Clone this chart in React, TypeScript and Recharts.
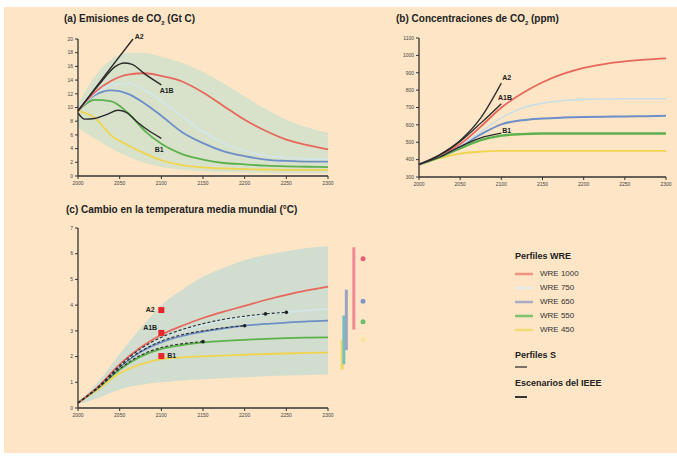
import React from 'react';
import { ComposedChart, Line, Area, XAxis, YAxis, ReferenceLine, ReferenceDot, Scatter } from 'recharts';

// ---------- shared ----------
const xTicks = [2000, 2050, 2100, 2150, 2200, 2250, 2300];
const emisTicks = [0, 2, 4, 6, 8, 10, 12, 14, 16, 18, 20];
const concTicks = [300, 400, 500, 600, 700, 800, 900, 1000, 1100];
const tempTicks = [0, 1, 2, 3, 4, 5, 6, 7];

// ---------- (a) emissions ----------
const yearsA = [2000, 2020, 2040, 2060, 2080, 2100, 2125, 2150, 2175, 2200, 2225, 2250, 2275, 2300];
const emisWRE1000 = [9.5, 12.2, 13.9, 14.8, 15.0, 14.6, 13.8, 12.2, 10.2, 8.2, 6.6, 5.3, 4.5, 3.9];
const emisWRE750 = [9.5, 12.0, 13.3, 13.5, 12.6, 11.0, 8.7, 6.5, 4.8, 3.7, 3.0, 2.7, 2.5, 2.4];
const emisWRE650 = [9.5, 11.8, 12.5, 12.0, 10.6, 8.8, 6.4, 4.8, 3.6, 2.9, 2.4, 2.2, 2.1, 2.1];
const emisWRE550 = [9.5, 11.1, 10.9, 9.2, 6.6, 4.7, 3.2, 2.4, 1.9, 1.7, 1.5, 1.4, 1.35, 1.3];
const emisWRE450 = [9.5, 8.5, 5.9, 4.5, 3.3, 2.3, 1.6, 1.25, 1.1, 1.0, 0.95, 0.9, 0.9, 0.9];
const emisBandLow = [7.0, 5.5, 4.0, 2.8, 1.9, 1.3, 0.9, 0.7, 0.6, 0.5, 0.45, 0.4, 0.4, 0.4];
const emisBandHigh = [10.5, 14.5, 17.0, 18.0, 18.0, 17.4, 16.5, 15.2, 13.5, 11.6, 9.8, 8.2, 7.1, 6.3];

const yearsA2 = [2000, 2033, 2066];
const emisA2 = [9.5, 14.8, 20.0];
const yearsA1B = [2000, 2025, 2045, 2055, 2065, 2080, 2100];
const emisA1B = [9.5, 13.3, 16.0, 16.5, 16.3, 14.9, 13.3];
const yearsB1 = [2000, 2008, 2020, 2035, 2048, 2058, 2070, 2085, 2100];
const emisB1 = [9.2, 8.3, 8.4, 9.0, 9.6, 9.3, 8.0, 6.6, 5.5];
const emisLabels = [
  { text: 'A2', x: 2068, y: 20.3 },
  { text: 'A1B', x: 2098, y: 12.5 },
  { text: 'B1', x: 2092, y: 3.8 },
];

// ---------- (b) concentrations ----------
const yearsB = [2000, 2025, 2050, 2075, 2100, 2125, 2150, 2175, 2200, 2225, 2250, 2275, 2300];
const concWRE1000 = [372, 425, 490, 590, 700, 780, 845, 893, 928, 950, 965, 976, 983];
const concWRE750 = [372, 422, 482, 560, 640, 695, 725, 740, 747, 749, 750, 750, 750];
const concWRE650 = [372, 420, 475, 545, 603, 627, 637, 642, 645, 647, 648, 650, 652];
const concWRE550 = [372, 415, 465, 512, 538, 547, 550, 550, 550, 550, 550, 550, 550];
const concWRE450 = [372, 408, 435, 446, 450, 450, 450, 450, 450, 450, 450, 450, 450];
const yearsSRES = [2000, 2025, 2050, 2075, 2100];
const concA2 = [372, 428, 510, 640, 840];
const concA1B = [372, 425, 505, 610, 722];
const concB1 = [372, 415, 475, 525, 552];
const concLabels = [
  { text: 'A2', x: 2101, y: 870 },
  { text: 'A1B', x: 2096, y: 755 },
  { text: 'B1', x: 2101, y: 565 },
];

// ---------- (c) temperature ----------
const yearsC = [2000, 2025, 2050, 2075, 2100, 2125, 2150, 2175, 2200, 2225, 2250, 2275, 2300];
const tempWRE1000 = [0.2, 0.85, 1.7, 2.35, 2.85, 3.2, 3.5, 3.75, 3.97, 4.2, 4.4, 4.57, 4.72];
const tempWRE750 = [0.2, 0.84, 1.65, 2.25, 2.7, 3.0, 3.22, 3.4, 3.53, 3.64, 3.72, 3.79, 3.85];
const tempWRE650 = [0.2, 0.83, 1.6, 2.18, 2.55, 2.8, 2.97, 3.1, 3.2, 3.27, 3.32, 3.37, 3.4];
const tempWRE550 = [0.2, 0.8, 1.5, 2.0, 2.3, 2.45, 2.55, 2.61, 2.65, 2.69, 2.72, 2.74, 2.75];
const tempWRE450 = [0.2, 0.75, 1.35, 1.7, 1.9, 1.97, 2.01, 2.04, 2.07, 2.1, 2.12, 2.14, 2.15];
const tempBandLow = [0.15, 0.4, 0.72, 0.9, 1.0, 1.07, 1.12, 1.16, 1.2, 1.23, 1.26, 1.28, 1.3];
const tempBandHigh = [0.2, 1.05, 2.1, 3.1, 4.0, 4.6, 5.1, 5.45, 5.75, 5.95, 6.1, 6.22, 6.3];

const yearsS750 = [2000, 2025, 2050, 2075, 2100, 2125, 2150, 2175, 2200, 2225, 2250];
const tempS750 = [0.2, 0.85, 1.65, 2.3, 2.75, 3.05, 3.28, 3.45, 3.57, 3.66, 3.72];
const yearsS650 = [2000, 2025, 2050, 2075, 2100, 2125, 2150, 2175, 2200];
const tempS650 = [0.2, 0.82, 1.6, 2.2, 2.6, 2.85, 3.0, 3.12, 3.2];
const yearsS550 = [2000, 2025, 2050, 2075, 2100, 2125, 2150];
const tempS550 = [0.2, 0.8, 1.52, 2.05, 2.35, 2.5, 2.58];
const sEndYears = [2225, 2250, 2200, 2150];
const sEndTemps = [3.66, 3.72, 3.2, 2.58];

const tempSRESYears = [2100, 2100, 2100];
const tempSRES = [3.81, 2.92, 2.02];
const tempLabels = [
  { text: 'A2', x: 2092, y: 3.85, anchor: 'end' },
  { text: 'A1B', x: 2095, y: 3.15, anchor: 'end' },
  { text: 'B1', x: 2107, y: 2.06, anchor: 'start' },
];
const rangeYears = [2317, 2319, 2322, 2331];
const rangeLow = [1.5, 1.7, 2.25, 3.05];
const rangeHigh = [2.65, 3.6, 4.6, 6.25];
const rangeDotYear = 2342;
const rangeDotTemps = [5.8, 4.15, 3.35, 2.65];

// ---------- legend ----------
const legendNames = ['WRE 1000', 'WRE 750', 'WRE 650', 'WRE 550', 'WRE 450'];

// ---------- styles ----------
const C_RED = '#e8675c';
const C_LBLUE = '#d3e6ec';
const C_BLUE = '#6d8ec8';
const C_GREEN = '#5db14c';
const C_YEL = '#f1d44e';
const C_BLACK = '#2a2a2a';
const legendColors = ['#f09282', '#e4ece8', '#aaa9c6', '#7dc36a', '#f5dc72'];
const rangeColors = ['#f3d65a', '#72c2bf', '#9aa3bf', '#ef8a92'];
const dotColors = ['#e2607a', '#7f97c8', '#6dbf6a', '#f6e6a0'];
const FONT = '"Liberation Sans", Arial, Helvetica, sans-serif';
const AX = '#333';

const pts = (xs: number[], ys: number[]) => xs.map((x, i) => ({ x, y: ys[i] }));
const band = (xs: number[], lo: number[], hi: number[]) => xs.map((x, i) => ({ x, r: [lo[i], hi[i]] }));

const tickStyle = { fontSize: 5, fill: '#444', fontFamily: FONT };

const xAxisEl = (
  <XAxis
    dataKey="x"
    type="number"
    domain={[2000, 2300]}
    ticks={xTicks}
    interval={0}
    height={14}
    tick={tickStyle}
    tickSize={3}
    axisLine={{ stroke: AX, strokeWidth: 1.3 }}
    tickLine={{ stroke: AX }}
  />
);

const TextShape = (text: string, anchor: string) => (p: any) => (
  <text x={p.cx} y={p.cy} dy={2.5} textAnchor={anchor} fontSize={7} fontWeight="bold" fontFamily={FONT} fill="#222">
    {text}
  </text>
);

const SquareShape = (p: any) => <rect x={p.cx - 3} y={p.cy - 3} width={6} height={6} fill="#e8262a" />;
const SmallDot = (p: any) => <circle cx={p.cx} cy={p.cy} r={1.8} fill="#222" />;

function ChartA() {
  return (
    <ComposedChart width={340} height={200} margin={{ top: 39, right: 12, bottom: 10, left: 0 }}>
      {xAxisEl}
      <YAxis
        type="number"
        domain={[0, 20]}
        ticks={emisTicks}
        interval={0}
        width={78}
        tick={tickStyle}
        tickSize={3}
        axisLine={{ stroke: AX, strokeWidth: 1.3 }}
        tickLine={{ stroke: AX }}
      />
      <Area data={band(yearsA, emisBandLow, emisBandHigh)} dataKey="r" type="monotone" stroke="none" fill="#d6e2ca" fillOpacity={0.95} isAnimationActive={false} />
      <Line data={pts(yearsA, emisWRE450)} dataKey="y" type="monotone" stroke={C_YEL} strokeWidth={1.8} dot={false} isAnimationActive={false} />
      <Line data={pts(yearsA, emisWRE550)} dataKey="y" type="monotone" stroke={C_GREEN} strokeWidth={1.8} dot={false} isAnimationActive={false} />
      <Line data={pts(yearsA, emisWRE650)} dataKey="y" type="monotone" stroke={C_BLUE} strokeWidth={1.8} dot={false} isAnimationActive={false} />
      <Line data={pts(yearsA, emisWRE750)} dataKey="y" type="monotone" stroke={C_LBLUE} strokeWidth={1.6} dot={false} isAnimationActive={false} />
      <Line data={pts(yearsA, emisWRE1000)} dataKey="y" type="monotone" stroke={C_RED} strokeWidth={1.8} dot={false} isAnimationActive={false} />
      <Line data={pts(yearsA2, emisA2)} dataKey="y" type="linear" stroke={C_BLACK} strokeWidth={1.4} dot={false} isAnimationActive={false} />
      <Line data={pts(yearsA1B, emisA1B)} dataKey="y" type="monotone" stroke={C_BLACK} strokeWidth={1.4} dot={false} isAnimationActive={false} />
      <Line data={pts(yearsB1, emisB1)} dataKey="y" type="monotone" stroke={C_BLACK} strokeWidth={1.4} dot={false} isAnimationActive={false} />
      {emisLabels.map((l) => (
        <ReferenceDot key={l.text} x={l.x} y={l.y} r={0} ifOverflow="visible" shape={TextShape(l.text, 'start')} />
      ))}
    </ComposedChart>
  );
}

function ChartB() {
  return (
    <ComposedChart width={297} height={200} margin={{ top: 38, right: 11, bottom: 9, left: 0 }}>
      {xAxisEl}
      <YAxis
        type="number"
        domain={[300, 1100]}
        ticks={concTicks}
        interval={0}
        width={39}
        tick={tickStyle}
        tickSize={3}
        axisLine={{ stroke: AX, strokeWidth: 1.3 }}
        tickLine={{ stroke: AX }}
      />
      <Line data={pts(yearsB, concWRE450)} dataKey="y" type="monotone" stroke={C_YEL} strokeWidth={1.8} dot={false} isAnimationActive={false} />
      <Line data={pts(yearsB, concWRE550)} dataKey="y" type="monotone" stroke={C_GREEN} strokeWidth={2.4} dot={false} isAnimationActive={false} />
      <Line data={pts(yearsB, concWRE650)} dataKey="y" type="monotone" stroke={C_BLUE} strokeWidth={2} dot={false} isAnimationActive={false} />
      <Line data={pts(yearsB, concWRE750)} dataKey="y" type="monotone" stroke="#c9dfe6" strokeWidth={1.6} dot={false} isAnimationActive={false} />
      <Line data={pts(yearsB, concWRE1000)} dataKey="y" type="monotone" stroke={C_RED} strokeWidth={1.8} dot={false} isAnimationActive={false} />
      <Line data={pts(yearsSRES, concA2)} dataKey="y" type="monotone" stroke={C_BLACK} strokeWidth={1.3} dot={false} isAnimationActive={false} />
      <Line data={pts(yearsSRES, concA1B)} dataKey="y" type="monotone" stroke={C_BLACK} strokeWidth={1.3} dot={false} isAnimationActive={false} />
      <Line data={pts(yearsSRES, concB1)} dataKey="y" type="monotone" stroke={C_BLACK} strokeWidth={1.3} dot={false} isAnimationActive={false} />
      {concLabels.map((l) => (
        <ReferenceDot key={l.text} x={l.x} y={l.y} r={0} ifOverflow="visible" shape={TextShape(l.text, 'start')} />
      ))}
    </ComposedChart>
  );
}

function ChartC() {
  return (
    <ComposedChart width={380} height={240} margin={{ top: 38, right: 52, bottom: 8, left: 0 }}>
      {xAxisEl}
      <YAxis
        type="number"
        domain={[0, 7]}
        ticks={tempTicks}
        interval={0}
        width={78}
        tick={tickStyle}
        tickSize={3}
        axisLine={{ stroke: AX, strokeWidth: 1.3 }}
        tickLine={{ stroke: AX }}
      />
      <Area data={band(yearsC, tempBandLow, tempBandHigh)} dataKey="r" type="monotone" stroke="none" fill="#cddcd0" fillOpacity={0.95} isAnimationActive={false} />
      <Line data={pts(yearsC, tempWRE450)} dataKey="y" type="monotone" stroke={C_YEL} strokeWidth={1.8} dot={false} isAnimationActive={false} />
      <Line data={pts(yearsC, tempWRE550)} dataKey="y" type="monotone" stroke={C_GREEN} strokeWidth={1.8} dot={false} isAnimationActive={false} />
      <Line data={pts(yearsC, tempWRE650)} dataKey="y" type="monotone" stroke={C_BLUE} strokeWidth={1.8} dot={false} isAnimationActive={false} />
      <Line data={pts(yearsC, tempWRE750)} dataKey="y" type="monotone" stroke={C_LBLUE} strokeWidth={1.6} dot={false} isAnimationActive={false} />
      <Line data={pts(yearsC, tempWRE1000)} dataKey="y" type="monotone" stroke={C_RED} strokeWidth={1.8} dot={false} isAnimationActive={false} />
      <Line data={pts(yearsS550, tempS550)} dataKey="y" type="monotone" stroke={C_BLACK} strokeWidth={1.1} strokeDasharray="3 2" dot={false} isAnimationActive={false} />
      <Line data={pts(yearsS650, tempS650)} dataKey="y" type="monotone" stroke={C_BLACK} strokeWidth={1.1} strokeDasharray="3 2" dot={false} isAnimationActive={false} />
      <Line data={pts(yearsS750, tempS750)} dataKey="y" type="monotone" stroke={C_BLACK} strokeWidth={1.1} strokeDasharray="3 2" dot={false} isAnimationActive={false} />
      <Scatter data={pts(sEndYears, sEndTemps)} dataKey="y" shape={SmallDot} isAnimationActive={false} />
      <Scatter data={pts(tempSRESYears, tempSRES)} dataKey="y" shape={SquareShape} isAnimationActive={false} />
      {tempLabels.map((l) => (
        <ReferenceDot key={l.text} x={l.x} y={l.y} r={0} ifOverflow="visible" shape={TextShape(l.text, l.anchor)} />
      ))}
      {rangeYears.map((yr, i) => (
        <ReferenceLine
          key={'rb' + i}
          segment={[{ x: yr, y: rangeLow[i] }, { x: yr, y: rangeHigh[i] }]}
          ifOverflow="visible"
          stroke={rangeColors[i]}
          strokeWidth={3}
        />
      ))}
      {rangeDotTemps.map((t, i) => (
        <ReferenceDot key={'rd' + i} x={rangeDotYear} y={t} r={2.5} ifOverflow="visible" fill={dotColors[i]} stroke="none" />
      ))}
    </ComposedChart>
  );
}

const titleStyle: React.CSSProperties = {
  position: 'absolute',
  fontFamily: FONT,
  fontWeight: 'bold',
  fontSize: 10,
  color: '#222',
  whiteSpace: 'nowrap',
  lineHeight: '12px',
};
const sub: React.CSSProperties = { fontSize: 6, verticalAlign: 'sub', lineHeight: 0 };

function Legend() {
  const head: React.CSSProperties = { position: 'absolute', left: 0, fontFamily: FONT, fontWeight: 'bold', fontSize: 9, color: '#222', whiteSpace: 'nowrap', lineHeight: '10px' };
  return (
    <div style={{ position: 'absolute', left: 515, top: 250, width: 150, height: 160 }}>
      <div style={{ ...head, top: 1 }}>Perfiles WRE</div>
      {legendNames.map((n, i) => (
        <div key={n} style={{ position: 'absolute', left: 0, top: 19 + i * 14, height: 10, width: 150 }}>
          <svg width={20} height={10} style={{ position: 'absolute', left: 0, top: 0 }}>
            <line x1={0} y1={5} x2={18} y2={5} stroke={legendColors[i]} strokeWidth={2.5} />
          </svg>
          <span style={{ position: 'absolute', left: 25, top: 0, fontFamily: FONT, fontSize: 8, lineHeight: '10px', color: '#333', whiteSpace: 'nowrap' }}>{n}</span>
        </div>
      ))}
      <div style={{ ...head, top: 100 }}>Perfiles S</div>
      <svg width={20} height={6} style={{ position: 'absolute', left: 0, top: 114 }}>
        <line x1={0} y1={3} x2={12} y2={3} stroke="#333" strokeWidth={1.3} />
      </svg>
      <div style={{ ...head, top: 128 }}>Escenarios del IEEE</div>
      <svg width={20} height={6} style={{ position: 'absolute', left: 0, top: 144 }}>
        <line x1={0} y1={3} x2={12} y2={3} stroke="#222" strokeWidth={1.8} />
      </svg>
    </div>
  );
}

export default function App() {
  return (
    <div style={{ position: 'absolute', left: 0, top: 0, width: 677, height: 457, background: '#ffffff', overflow: 'hidden' }}>
      <div style={{ position: 'absolute', left: 4, top: 7, width: 673, height: 446, background: '#fde5c6' }} />
      <div style={{ ...titleStyle, left: 64, top: 13 }}>
        (a) Emisiones de CO<span style={sub}>2</span> (Gt C)
      </div>
      <div style={{ ...titleStyle, left: 396, top: 13 }}>
        (b) Concentraciones de CO<span style={sub}>2</span> (ppm)
      </div>
      <div style={{ ...titleStyle, left: 66, top: 204 }}>
        (c) Cambio en la temperatura media mundial (°C)
      </div>
      <div style={{ position: 'absolute', left: 0, top: 0 }}>
        <ChartA />
      </div>
      <div style={{ position: 'absolute', left: 380, top: 0 }}>
        <ChartB />
      </div>
      <div style={{ position: 'absolute', left: 0, top: 190 }}>
        <ChartC />
      </div>
      <Legend />
    </div>
  );
}
